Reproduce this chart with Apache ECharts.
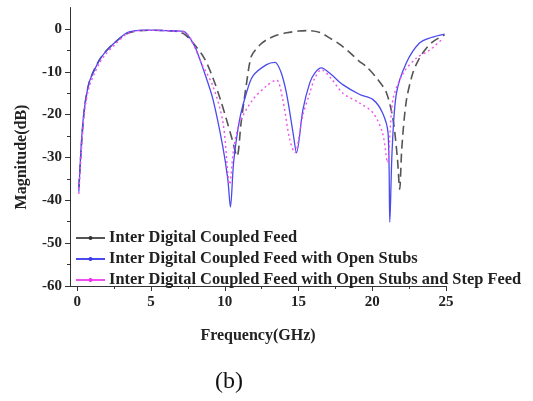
<!DOCTYPE html>
<html><head><meta charset="utf-8">
<script src="https://cdn.jsdelivr.net/npm/echarts@6/dist/echarts.min.js"></script>
<style>html,body{margin:0;padding:0;background:#fff}#c{width:533px;height:401px}</style>
</head><body><div id="c"></div>
<script>
const seriesNames = [
  'Inter Digital Coupled Feed',
  'Inter Digital Coupled Feed with Open Stubs',
  'Inter Digital Coupled Feed with Open Stubs and Step Feed'
];
const xTicks = [0, 5, 10, 15, 20, 25];
const xMinorTicks = [2.5, 7.5, 12.5, 17.5, 22.5];
const yTicks = [-60, -50, -40, -30, -20, -10, 0];
const yMinorTicks = [-55, -45, -35, -25, -15, -5];

const freqA = [0.1,0.3,0.5,0.8,1.17,1.5,1.85,2.5,3.3,4.0,4.9,6.0,6.8,7.3,7.85,8.6,9.2,9.7,10.1,10.5,10.83,11.1,11.46,11.8,12.3,12.8,13.5,14.2,15.0,15.76,16.5,17.1,17.8,18.5,19.1,19.6,20.4,20.96,21.4,21.7,21.86,22.0,22.3,22.75,23.2,23.6,24.1,24.9];
const magA  = [-37,-26,-18,-12.5,-9.3,-7.2,-5.5,-3.3,-1.2,-0.5,-0.3,-0.4,-0.6,-1.3,-3.3,-6.8,-11.5,-16.5,-21,-25.8,-29.7,-22,-13,-6.4,-4,-2.6,-1.5,-0.9,-0.5,-0.4,-0.9,-2.1,-3.6,-5.6,-7.5,-8.8,-11.9,-14.9,-21,-30,-37.4,-28,-17,-10.3,-6.8,-4.8,-3,-1.4];

const freqB = [0.1,0.3,0.5,0.8,1.17,1.5,1.85,2.5,3.3,4.0,4.9,6.0,7.0,7.3,7.7,8.07,8.6,9.2,9.86,10.2,10.38,10.6,11.0,11.46,11.9,12.8,13.4,13.8,14.18,14.63,14.86,15.3,15.76,16.1,16.55,17.2,18.0,19.15,20.05,20.7,21.07,21.19,21.35,21.64,22.3,23.2,24.0,24.9];
const magB  = [-38,-25,-18,-12.5,-9.5,-7.3,-5.6,-3.3,-1.0,-0.4,-0.3,-0.4,-0.5,-0.7,-2.5,-4.9,-10,-16.5,-27.4,-35,-41.6,-31,-21.2,-15,-11,-8.4,-7.8,-10,-15,-24.3,-28.9,-18.8,-12.6,-10.3,-9.1,-10.6,-13,-15.3,-16.5,-19.6,-24.3,-45.1,-28,-15,-8,-3.3,-2,-1.2];

const freqC = [0.1,0.3,0.5,0.8,1.17,1.5,1.85,2.5,3.3,4.0,4.9,6.0,7.0,7.4,7.8,8.3,9.2,9.88,10.33,10.6,11.0,11.9,12.8,13.5,13.9,14.4,14.74,15.3,15.76,16.1,16.55,17.2,18.0,19.15,20.05,20.7,21.03,21.4,22.1,23.0,23.9,24.8];
const magC  = [-38.5,-27,-19,-13.5,-10.3,-8,-6.2,-3.8,-1.3,-0.5,-0.3,-0.4,-0.6,-1,-3,-7.2,-13.4,-21.9,-36.3,-28,-21.9,-16.5,-13.4,-11.9,-16,-25.8,-28.9,-20,-15,-11.5,-9.5,-11.5,-15,-17.3,-19.6,-24.3,-31.2,-16.5,-10.3,-6.8,-4.9,-2.2];

const zip = (xs, ys) => xs.map((x, i) => [x, ys[i]]);
const FONT = '"Liberation Serif", "Times New Roman", serif';
const AX = '#333';

const chart = echarts.init(document.getElementById('c'), null, {renderer: 'canvas'});
const tickLabel = {fontFamily: FONT, fontWeight: 'bold', fontSize: 15, color: '#222'};
chart.setOption({
  animation: false,
  backgroundColor: '#fff',
  grid: {left: 70, right: 87, top: 7.5, bottom: 115},
  xAxis: [{
    type: 'value', min: -0.5, max: 25,
    axisLine: {show: true, onZero: false, lineStyle: {color: AX, width: 1}},
    axisTick: {show: true, inside: false, length: 5, customValues: xTicks, lineStyle: {color: AX}},
    axisLabel: Object.assign({customValues: xTicks, margin: 9}, tickLabel),
    splitLine: {show: false}
  }, {
    type: 'value', min: -0.5, max: 25, gridIndex: 0, position: 'bottom',
    axisLine: {show: false, onZero: false},
    axisTick: {show: true, length: 3, customValues: xMinorTicks, lineStyle: {color: AX}},
    axisLabel: {show: false}, splitLine: {show: false}
  }],
  yAxis: [{
    type: 'value', min: -60, max: 5,
    axisLine: {show: true, onZero: false, lineStyle: {color: AX, width: 1}},
    axisTick: {show: true, inside: false, length: 5, customValues: yTicks, lineStyle: {color: AX}},
    axisLabel: Object.assign({customValues: yTicks, margin: 8}, tickLabel),
    splitLine: {show: false}
  }, {
    type: 'value', min: -60, max: 5, position: 'left',
    axisLine: {show: false, onZero: false},
    axisTick: {show: true, length: 3, customValues: yMinorTicks, lineStyle: {color: AX}},
    axisLabel: {show: false}, splitLine: {show: false}
  }],
  legend: {
    orient: 'vertical', left: 70, top: 225, itemGap: 5,
    itemWidth: 29, itemHeight: 5,
    data: seriesNames,
    lineStyle: {type: 'solid', width: 2},
    textStyle: {fontFamily: FONT, fontWeight: 'bold', fontSize: 16.4, color: '#222', lineHeight: 16, padding: [0,0,0,-1]}
  },
  graphic: [
    {type: 'text', x: 258, y: 336, style: {text: 'Frequency(GHz)', font: 'bold 16px ' + FONT, fill: '#222', align: 'center', verticalAlign: 'middle'}},
    {type: 'text', x: 22, y: 157, rotation: Math.PI / 2, style: {text: 'Magnitude(dB)', font: 'bold 16px ' + FONT, fill: '#222', align: 'center', verticalAlign: 'middle'}},
    {type: 'text', x: 229, y: 382, style: {text: '(b)', font: '24px ' + FONT, fill: '#111', align: 'center', verticalAlign: 'middle'}}
  ],
  series: [
    {name: seriesNames[0], type: 'line', data: zip(freqA, magA), showSymbol: false, symbol: 'circle', smooth: 0.3,
     color: '#333', lineStyle: {color: '#555', width: 1.6, type: [9, 5]}},
    {name: seriesNames[1], type: 'line', data: zip(freqB, magB), showSymbol: false, symbol: 'circle', smooth: 0.3,
     color: '#3b3bea', lineStyle: {color: '#4a4aee', width: 1.3}},
    {name: seriesNames[2], type: 'line', data: zip(freqC, magC), showSymbol: false, symbol: 'circle', smooth: 0.3,
     color: '#f02cf0', lineStyle: {color: '#f050f0', width: 1.4, type: [2, 3]}}
  ]
});
</script>
</body></html>
